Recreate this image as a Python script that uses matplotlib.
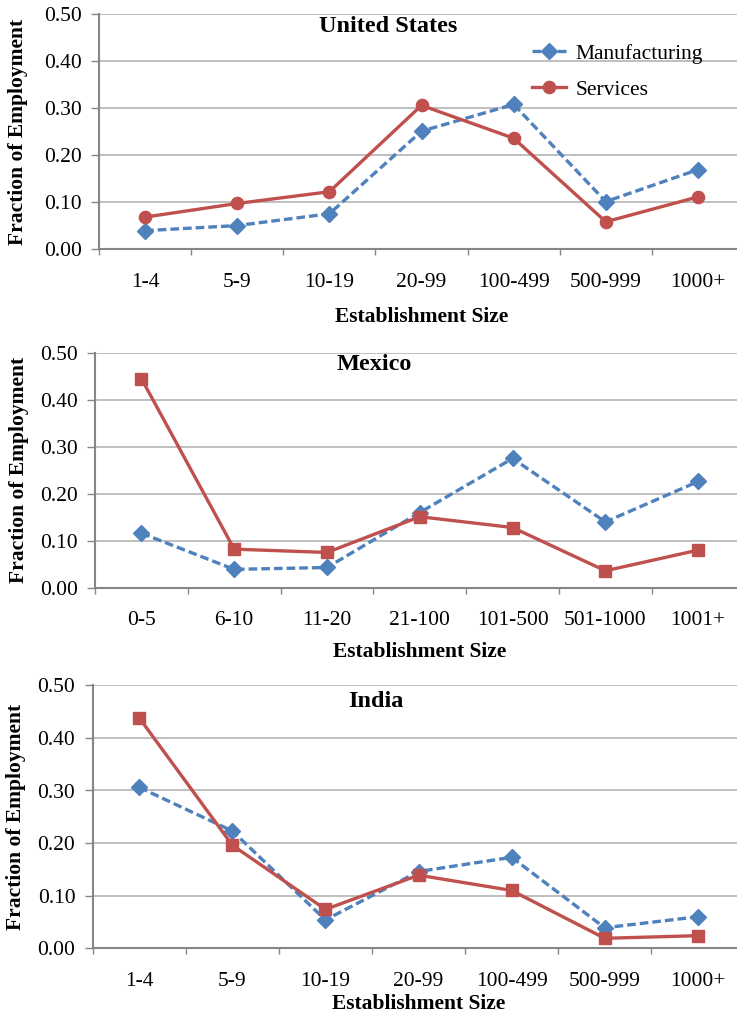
import numpy as np
import matplotlib
matplotlib.use('Agg')
import matplotlib.pyplot as plt
from matplotlib.ticker import FormatStrFormatter

plt.rcParams['font.family'] = ['Liberation Serif', 'DejaVu Serif']

# data
us_sizes = ['1-4', '5-9', '10-19', '20-99', '100-499', '500-999', '1000+']
us_manuf = [0.039, 0.050, 0.075, 0.251, 0.308, 0.101, 0.169]
us_serv = [0.068, 0.097, 0.122, 0.306, 0.236, 0.058, 0.111]

mx_sizes = ['0-5', '6-10', '11-20', '21-100', '101-500', '501-1000', '1001+']
mx_manuf = [0.116, 0.039, 0.043, 0.160, 0.275, 0.140, 0.226]
mx_serv = [0.445, 0.082, 0.075, 0.151, 0.128, 0.036, 0.080]

in_sizes = ['1-4', '5-9', '10-19', '20-99', '100-499', '500-999', '1000+']
in_manuf = [0.306, 0.223, 0.054, 0.146, 0.173, 0.039, 0.060]
in_serv = [0.438, 0.196, 0.074, 0.139, 0.110, 0.019, 0.024]

yticks = [0.0, 0.1, 0.2, 0.3, 0.4, 0.5]

blue = '#4F81BD'
red = '#C0504D'
grid_c = '#B4B4B4'
axis_c = '#868686'

W, H = 737, 1013
fig = plt.figure(figsize=(W / 100, H / 100), dpi=100)

# axes boxes in pixels: left, top, right, bottom
boxes = [(99, 14.3, 744, 249), (95, 352.7, 744.6, 587.7), (92.7, 685.3, 744.4, 948.3)]
titles = ['United States', 'Mexico', 'India']
title_pos = [(0.448, 0.950), (0.43, 0.948), (0.434, 0.937)]
xlab_y = [-0.29, -0.274, -0.21]
ylab_x = [-0.125, -0.117, -0.118]
serv_marker = ['o', 's', 's']
panels = [(us_sizes, us_manuf, us_serv), (mx_sizes, mx_manuf, mx_serv), (in_sizes, in_manuf, in_serv)]

for i, (sizes, manuf, serv) in enumerate(panels):
    l, t, r, b = boxes[i]
    ax = fig.add_axes([l / W, (H - b) / H, (r - l) / W, (b - t) / H])
    x = np.arange(len(sizes))
    ax.plot(x, manuf, color=blue, lw=2.4, linestyle=(0, (2.6, 1.2)), marker='D',
            markersize=8.3, label='Manufacturing', zorder=3)
    ms = 8.8 if serv_marker[i] == 'o' else 8.2
    ax.plot(x, serv, color=red, lw=2.4, marker=serv_marker[i], markersize=ms,
            label='Services', zorder=4)

    ax.set_xlim(-0.5, len(sizes) - 0.5)
    ax.set_ylim(0, 0.5)
    ax.set_yticks(yticks)
    ax.yaxis.set_major_formatter(FormatStrFormatter('%.2f'))
    ax.set_xticks(np.arange(len(sizes) + 1) - 0.5)
    ax.set_xticklabels([])
    ax.set_xticks(x, minor=True)
    ax.set_xticklabels(sizes, minor=True)
    ax.tick_params(axis='x', which='major', direction='out', length=4, width=1, color=axis_c)
    ax.tick_params(axis='x', which='minor', length=0, pad=17, labelsize=15.5)
    ax.tick_params(axis='y', direction='out', length=5.5, width=1, color=axis_c, pad=7, labelsize=15.5)

    ax.grid(axis='y', color=grid_c, lw=1.2)
    ax.set_axisbelow(True)
    for s in ['top', 'right']:
        ax.spines[s].set_visible(False)
    for s in ['left', 'bottom']:
        ax.spines[s].set_color(axis_c)
        ax.spines[s].set_linewidth(1.5)

    ax.set_xlabel('Establishment Size', fontsize=15.5, fontweight='bold')
    ax.xaxis.label.set_va('center')
    ax.xaxis.set_label_coords(0.5, xlab_y[i])
    ax.set_ylabel('Fraction of Employment', fontsize=15.5, fontweight='bold')
    ax.yaxis.label.set_va('center')
    ax.yaxis.set_label_coords(ylab_x[i], 0.5)

    ax.text(title_pos[i][0], title_pos[i][1], titles[i], transform=ax.transAxes,
            ha='center', va='center', fontsize=17.5, fontweight='bold')

    if i == 0:
        ax.legend(loc='upper left', bbox_to_anchor=(0.671, 0.875), frameon=False,
                  fontsize=15.5, handlelength=1.6, handletextpad=0.45,
                  labelspacing=0.75, borderpad=0, borderaxespad=0)

fig.savefig('out.png', dpi=100)
